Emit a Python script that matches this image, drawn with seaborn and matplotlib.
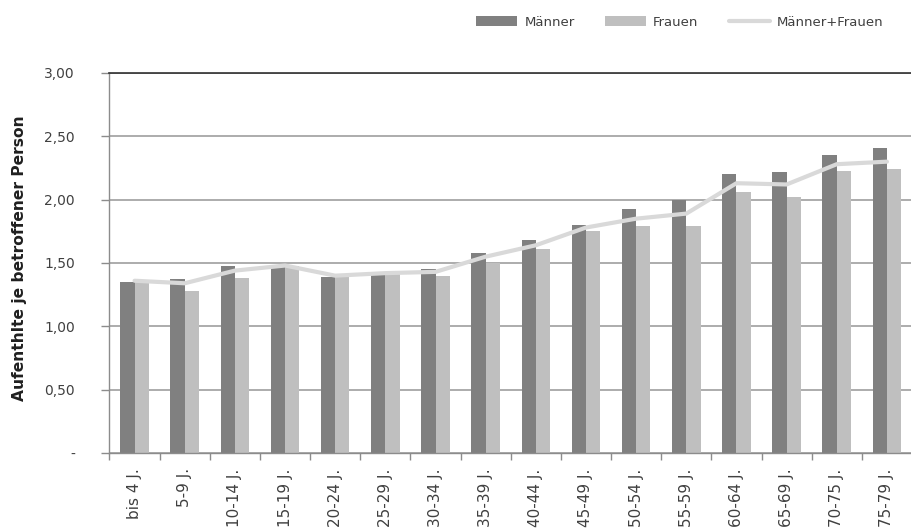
import numpy as np
import pandas as pd
import matplotlib
matplotlib.use("Agg")
import matplotlib.pyplot as plt
from matplotlib.patches import Patch
from matplotlib.lines import Line2D
import seaborn as sns

age_groups = ["bis 4 J.", "5-9 J.", "10-14 J.", "15-19 J.", "20-24 J.", "25-29 J.",
              "30-34 J.", "35-39 J.", "40-44 J.", "45-49 J.", "50-54 J.", "55-59 J.",
              "60-64 J.", "65-69 J.", "70-75 J.", "75-79 J."]
maenner = [1.35, 1.37, 1.48, 1.47, 1.39, 1.41, 1.45, 1.58, 1.68, 1.80, 1.93, 2.00,
           2.20, 2.22, 2.35, 2.41]
frauen = [1.36, 1.28, 1.38, 1.48, 1.40, 1.43, 1.40, 1.50, 1.61, 1.75, 1.79, 1.79,
          2.06, 2.02, 2.23, 2.24]
gesamt = [1.36, 1.34, 1.44, 1.48, 1.40, 1.42, 1.43, 1.55, 1.64, 1.78, 1.85, 1.89,
          2.13, 2.12, 2.28, 2.30]
y_ticks = [0, 0.5, 1.0, 1.5, 2.0, 2.5, 3.0]
y_ticklabels = ["-", "0,50", "1,00", "1,50", "2,00", "2,50", "3,00"]

col_m = "#808080"
col_f = "#bfbfbf"
col_total = "#d9d9d9"
text_col = "#404040"

sns.set_theme(style="white")
plt.rcParams["font.family"] = ["DejaVu Sans"]

df = pd.DataFrame({
    "Alter": age_groups * 2,
    "Wert": maenner + frauen,
    "Geschlecht": ["Männer"] * len(age_groups) + ["Frauen"] * len(age_groups),
})

W, H = 912, 531
fig = plt.figure(figsize=(W / 100, H / 100), dpi=100)
ax = fig.add_axes([109.5 / W, (H - 453) / H, 1 - 109.5 / W, (453 - 73) / H])

sns.barplot(data=df, x="Alter", y="Wert", hue="Geschlecht", order=age_groups,
            hue_order=["Männer", "Frauen"], palette=[col_m, col_f],
            width=0.57, saturation=1, errorbar=None, legend=False, ax=ax,
            linewidth=0, edgecolor="none", zorder=2)
sns.lineplot(x=np.arange(len(age_groups)), y=gesamt, color=col_total, linewidth=3,
             ax=ax, zorder=3)

ax.set_xlim(-0.5, 15.24)
ax.set_ylim(0, 3.0)
ax.set_yticks(y_ticks)
ax.set_yticklabels(y_ticklabels, fontsize=10, color=text_col)
ax.yaxis.grid(True, color="#a6a6a6", linewidth=1.3, zorder=0)
ax.set_axisbelow(True)

ax.set_xticks(np.arange(len(age_groups)))
ax.set_xticklabels(age_groups, rotation=90, fontsize=11, color=text_col)
ax.tick_params(axis="x", length=0, pad=11)
# tick marks sit on the category boundaries
ax.set_xticks(np.arange(len(age_groups) + 1) - 0.5, minor=True)
ax.tick_params(axis="x", which="minor", length=5, width=1, color="#8c8c8c",
               bottom=True)
ax.tick_params(axis="y", length=6, width=1, color="#8c8c8c", left=True, pad=19)

ax.set_xlabel("")
ax.set_ylabel("Aufenthlte je betroffener Person", fontsize=11.2, fontweight="bold",
              color="#202020")
ax.yaxis.set_label_coords(-0.103, 0.513)

for side in ["left", "bottom"]:
    ax.spines[side].set_color("#8c8c8c")
    ax.spines[side].set_linewidth(1)
ax.spines["top"].set_color("#303030")
ax.spines["top"].set_linewidth(1.2)
ax.spines["right"].set_visible(False)

handles = [Patch(facecolor=col_m, edgecolor="none"),
           Patch(facecolor=col_f, edgecolor="none"),
           Line2D([0], [0], color=col_total, linewidth=3)]
leg = fig.legend(handles, ["Männer", "Frauen", "Männer+Frauen"], loc="center",
                 bbox_to_anchor=(680 / W, 1 - 22 / H), ncol=3, frameon=False,
                 fontsize=9.5, handlelength=3.1, handleheight=0.7,
                 columnspacing=2.3, handletextpad=0.55)
for t in leg.get_texts():
    t.set_color(text_col)

fig.savefig("out.png", dpi=100)
